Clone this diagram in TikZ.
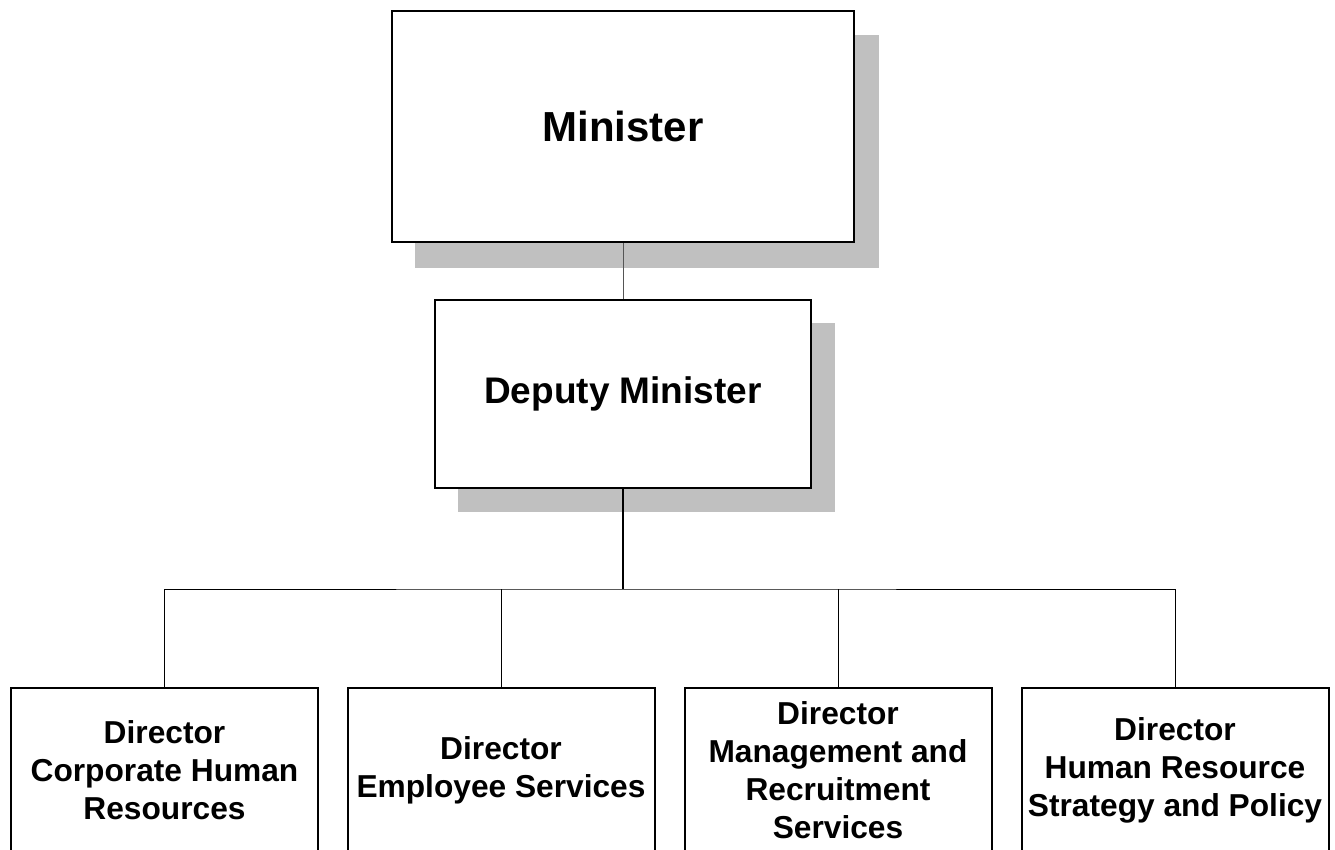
\documentclass[tikz,border=0pt]{standalone}
\usepackage{fontspec}
\setmainfont{Liberation Sans}
\definecolor{shadowgray}{HTML}{C0C0C0}
\definecolor{linkgray}{HTML}{555555}
\tikzset{
  topbox/.style={draw=black, line width=2pt, fill=white, inner sep=0pt, align=center},
  dirbox/.style={draw=black, line width=2pt, fill=white, inner sep=0pt, align=center,
    minimum width=307pt, minimum height=164pt,
    font=\bfseries\fontsize{31.7}{38}\selectfont},
  thinlink/.style={line width=1pt, draw=black},
  thicklink/.style={line width=2pt, draw=black},
  greylink/.style={line width=1pt, draw=linkgray}
}
\begin{document}
\begin{tikzpicture}[x=1pt,y=-1pt]
\useasboundingbox (0,0) rectangle (1335,850);
\clip (0,0) rectangle (1335,850);
% shadows
\fill[shadowgray] (415,35) rectangle (879,268);
\fill[shadowgray] (458,323) rectangle (835,512);
% top nodes
\node[topbox, minimum width=462pt, minimum height=231pt,
  font=\bfseries\fontsize{42}{50}\selectfont] (min) at (623,126.5) {Minister};
\node[topbox, minimum width=376pt, minimum height=188pt,
  font=\bfseries\fontsize{37}{44}\selectfont] (dep) at (623,394) {Deputy Minister};
% directors
\node[dirbox] (d1) at (164.5,770) {Director\\Corporate Human\\Resources};
\node[dirbox] (d2) at (501,770) {Director\\Employee Services};
\node[dirbox] (d3) at (838,770) {Director\\Management and\\Recruitment\\Services};
\node[dirbox] (d4) at (1175,770) {Director\\Human Resource\\Strategy and Policy};
% connectors
\coordinate (bus) at (623,589);
\draw[greylink] (min.south) -- (dep.north);
\draw[thicklink] (dep.south) -- (bus);
\draw[thinlink] (d1.north) |- (bus) -| (d4.north);
\draw[thinlink] (d2.north) -- (d2.north |- bus);
\draw[thinlink] (d3.north) -- (d3.north |- bus);
\end{tikzpicture}
\end{document}
